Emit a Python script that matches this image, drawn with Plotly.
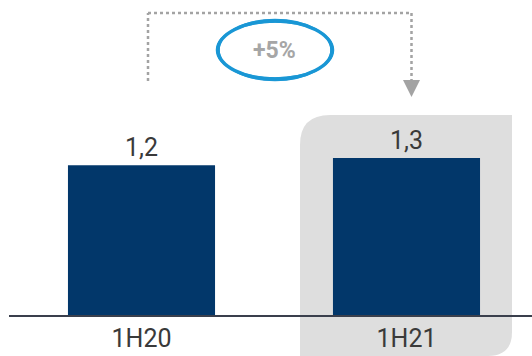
import plotly.graph_objects as go

categories = ["1H20", "1H21"]
values = [1.24, 1.30]
value_labels = ["1,2", "1,3"]
growth_label = "+5%"

W, H = 532, 356
ML, MR, MT, MB = 9, 0, 0, 41
PW, PH = W - ML - MR, H - MT - MB

def px(x):
    return (x - ML) / PW

def py(y):
    return (H - MB - y) / PH

fig = go.Figure()
fig.add_trace(go.Bar(
    x=[0, 1], y=values, width=0.555,
    marker=dict(color="#02376a", line=dict(width=0)),
    text=value_labels, textposition="outside", cliponaxis=False,
    textfont=dict(family="Roboto", size=25, color="#3a3a3a"),
    hoverinfo="skip",
))

shapes = []
# grey highlight box with rounded top-left and bottom-right corners
x0, x1, y0, y1 = 300, 512, 115, 356
r1, r2 = 30, 24
path = (f"M {px(x0)},{py(y0 + r1)} Q {px(x0)},{py(y0)} {px(x0 + r1)},{py(y0)} "
        f"L {px(x1)},{py(y0)} L {px(x1)},{py(y1 - r2)} "
        f"Q {px(x1)},{py(y1)} {px(x1 - r2)},{py(y1)} L {px(x0)},{py(y1)} Z")
shapes.append(dict(type="path", xref="paper", yref="paper", path=path,
                   fillcolor="#dedede", line=dict(width=0), layer="below"))
# dotted connector
dot = dict(color="#a3a3a3", width=2.5, dash="3px,3px")
shapes.append(dict(type="line", xref="paper", yref="paper",
                   x0=px(148), y0=py(81), x1=px(148), y1=py(13), line=dot))
shapes.append(dict(type="line", xref="paper", yref="paper",
                   x0=px(148), y0=py(13), x1=px(411.5), y1=py(13), line=dot))
shapes.append(dict(type="line", xref="paper", yref="paper",
                   x0=px(411.5), y0=py(13), x1=px(411.5), y1=py(80), line=dot))
tri = f"M {px(403)},{py(80)} L {px(420)},{py(80)} L {px(411.5)},{py(97)} Z"
shapes.append(dict(type="path", xref="paper", yref="paper", path=tri,
                   fillcolor="#a3a3a3", line=dict(width=0)))
# sketchy ellipse
for (a, b, c, d, w) in [(218, 21, 332, 79, 3.5), (219, 19.5, 331, 80.5, 1.5), (216.5, 22, 333.5, 78, 1.5)]:
    shapes.append(dict(type="circle", xref="paper", yref="paper",
                       x0=px(a), x1=px(c), y0=py(b), y1=py(d),
                       line=dict(color="#1a97d5", width=w)))

fig.add_annotation(xref="paper", yref="paper", x=px(274), y=py(50),
                   xanchor="center", yanchor="middle",
                   text=f"<b>{growth_label}</b>", showarrow=False,
                   font=dict(family="Roboto", size=23, color="#a6a6a6"))

fig.update_layout(
    width=W, height=H, margin=dict(l=ML, r=MR, t=MT, b=MB),
    paper_bgcolor="white", plot_bgcolor="rgba(0,0,0,0)",
    showlegend=False, shapes=shapes,
    xaxis=dict(range=[-0.5, 1.4736], tickvals=[0, 1], ticktext=categories,
               showgrid=False, zeroline=False, showline=True,
               linecolor="#3a3f4c", linewidth=2, ticks="",
               tickfont=dict(family="Roboto", size=25, color="#3a3a3a")),
    yaxis=dict(range=[0, 2.608], visible=False),
)
fig.write_html("out.html", config={"displayModeBar": False},
               post_script="document.body.style.margin='0';")
